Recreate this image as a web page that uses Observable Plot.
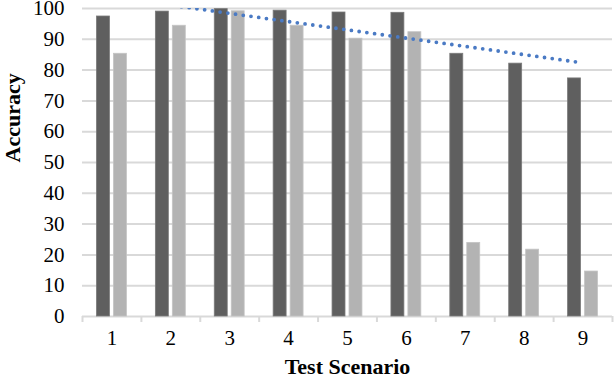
<!DOCTYPE html>
<html>
<head>
<meta charset="utf-8">
<script src="https://cdn.jsdelivr.net/npm/d3@7"></script>
<script src="https://cdn.jsdelivr.net/npm/@observablehq/plot@0.6"></script>
<style>
  body { margin: 0; background: #fff; }
  svg, svg text { font-family: "Liberation Serif", "Times New Roman", serif !important; }
</style>
</head>
<body>
<div id="chart"></div>
<script>
const scenarios = [1, 2, 3, 4, 5, 6, 7, 8, 9];
const seriesA = [97.4, 99.0, 99.8, 99.3, 98.7, 98.6, 85.3, 82.1, 77.3];
const seriesB = [85.3, 94.4, 99.1, 94.4, 90.2, 92.3, 23.9, 21.7, 14.6];
const yTicks = [0, 10, 20, 30, 40, 50, 60, 70, 80, 90, 100];
const xLabel = "Test Scenario";
const yLabel = "Accuracy";

const rows = scenarios.map((s, i) => ({scenario: s, a: seriesA[i], b: seriesB[i]}));
const boundaries = d3.range(0.5, scenarios.length + 1, 1);

const serif = "'Liberation Serif', 'Times New Roman', serif";
const barW = 0.22, gap = 0.034;
const grid = "#d9d9d9";

const chart = Plot.plot({
  width: 614,
  height: 384,
  marginLeft: 82,
  marginRight: 2,
  marginTop: 8,
  marginBottom: 68,
  style: {fontFamily: serif, fontSize: "21px", color: "#000", background: "#fff"},
  x: {type: "linear", domain: [0.5, scenarios.length + 0.5]},
  y: {domain: [0, 100]},
  marks: [
    Plot.ruleY(yTicks, {stroke: grid, strokeWidth: 2}),
    Plot.axisY({ticks: yTicks, tickSize: 0, tickPadding: 18, label: null, fontSize: 21, fontFamily: serif}),
    Plot.axisX({ticks: boundaries, tickSize: 6, tickFormat: () => "", stroke: grid, strokeWidth: 2, strokeOpacity: 1, label: null}),
    Plot.axisX({ticks: scenarios, tickSize: 0, tickPadding: 14, tickFormat: d3.format("d"), label: null, fontSize: 21, fontFamily: serif}),
    Plot.rectY(rows, {x1: d => d.scenario - gap - barW, x2: d => d.scenario - gap, y: "a", fill: "#5f5f5f", stroke: "#7a7a7a", strokeWidth: 0.8}),
    Plot.rectY(rows, {x1: d => d.scenario + gap, x2: d => d.scenario + gap + barW, y: "b", fill: "#b3b3b3", stroke: "#c4c4c4", strokeWidth: 0.8}),
    Plot.linearRegressionY(rows, {x: "scenario", y: "a", ci: 0, stroke: "#4a7ac4", strokeWidth: 3.8, strokeDasharray: "0 7.8", strokeLinecap: "round", clip: true}),
    Plot.text([xLabel], {frameAnchor: "bottom", dy: 57, fontWeight: "bold", fontSize: 22, fontFamily: serif}),
    Plot.text([yLabel], {frameAnchor: "left", dx: -70, rotate: -90, fontWeight: "bold", fontSize: 22, fontFamily: serif})
  ]
});
document.getElementById("chart").appendChild(chart);
</script>
</body>
</html>
